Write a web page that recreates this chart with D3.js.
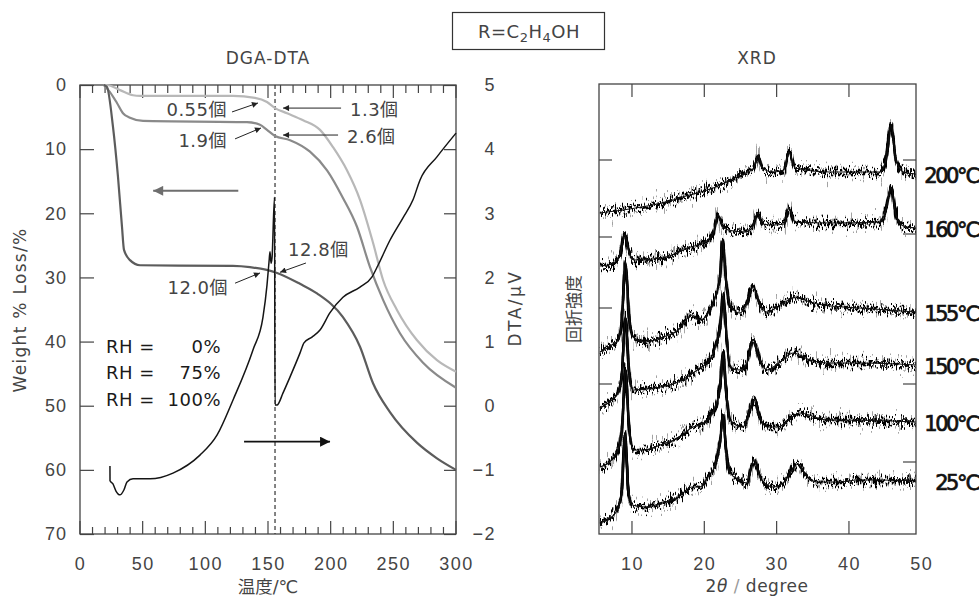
<!DOCTYPE html>
<html><head><meta charset="utf-8">
<script src="https://cdn.jsdelivr.net/npm/d3@7/dist/d3.min.js"></script>
<style>
body{margin:0;background:#fff;}
svg{display:block;font-family:"DejaVu Sans","Noto Sans CJK JP",sans-serif;}
.lbl{font-size:18px;fill:#444;letter-spacing:1.5px;}
</style></head><body>
<svg id="c" width="979" height="599"></svg>
<script>
// ---------------- DATA ----------------
// TG curves: [temperature °C, weight loss %]
const tgRH0 = [[19,0],[21.5,0],[31.9,0.8],[42.3,1.6],[47.9,1.7],[122,1.7],[139.6,2.0],[149.2,2.65],[155.6,3.6],[165.2,4.4],[178,5.5],[191.5,7.0],[201.9,9.7],[213,13.3],[223.4,17.9],[233.8,24.6],[241.8,30.4],[253,35.1],[268.9,39.8],[284.8,42.9],[300,44.7]];
const tgRH75 = [[19,0],[23.9,1.1],[29.5,2.8],[34.3,4.4],[39.9,5.1],[50.3,5.6],[133.2,5.8],[143.6,6.2],[149.2,7.0],[155.6,7.95],[167.6,8.6],[183.5,10.4],[197.1,13.3],[209.8,17.6],[221,22.1],[231.4,28.4],[241.8,33.5],[255.3,38.7],[273.7,43.3],[300,47.2]];
const tgRH100 = [[19,0],[21.5,0.3],[26.3,6.5],[30.3,14.3],[33.5,22.1],[35.1,25.7],[39.9,27.3],[47.9,28.1],[122,28.2],[135.6,28.4],[157.2,29.3],[175.5,31.0],[189.1,32.5],[209.8,36.2],[223.4,40.8],[233.8,46.5],[247.3,51],[269,55.8],[284.8,58.2],[300,60]];
// DTA curve: [temperature °C, DTA µV]
const dtaCurve = [[23.9,-0.94],[23.95,-1.17],[26.3,-1.22],[28.7,-1.33],[31.9,-1.39],[35.1,-1.31],[37.5,-1.19],[42.3,-1.14],[55.9,-1.14],[74.2,-1.05],[95.7,-0.77],[109.3,-0.46],[122.1,0.09],[138,0.87],[146,1.38],[149.2,1.88],[150.8,2.24],[151.6,2.4],[152.4,2.22],[153.2,2.3],[155.2,3.25],[155.6,0.01],[157.2,0.01],[162,0.2],[167.6,0.45],[175.5,0.82],[178.7,0.98],[185.1,1.07],[191.5,1.18],[199.5,1.45],[209.8,1.69],[223.4,1.85],[233,2.01],[237.8,2.19],[247.3,2.58],[257.7,2.93],[265.7,3.21],[271.3,3.52],[284.8,3.88],[300,4.25]];
const tempTicks = [0,50,100,150,200,250,300];
const weightTicks = [0,10,20,30,40,50,60,70];
const dtaTicks = [-2,-1,0,1,2,3,4,5];
const transitionTemp = 155.6;
const rhLabels = ["0%","75%","100%"];
const waterLabels = ["0.55個","1.9個","1.3個","2.6個","12.8個","12.0個"];

// XRD curves: [2θ degree, intensity (arb.)]
const xrd25 = [[5.57,12],[7.2,17],[8.06,26],[8.6,44],[9.03,101],[9.45,49],[10.0,29],[11.8,27],[14.15,31],[16.4,37],[18.3,47],[19.4,47],[20.5,57],[21.5,69],[22.2,94],[22.6,119],[23.0,84],[23.55,61],[24.9,54],[25.8,51],[26.9,74],[27.7,57],[28.7,49],[29.5,47],[30.9,51],[33.0,70],[34.0,59],[35.6,52],[38.8,52],[41.1,54],[44.3,54],[49.3,53]];
const xrd100 = [[5.57,67],[7.2,74],[8.06,84],[8.6,104],[9.1,164],[9.58,109],[10.14,84],[11.8,84],[13.9,89],[16.4,96],[18.44,107],[19.4,109],[20.8,117],[21.6,129],[22.2,149],[22.6,181],[23.0,144],[23.55,114],[25.35,107],[26.9,134],[27.7,116],[28.7,107],[30.1,107],[33.2,121],[36.97,114],[38.8,114],[49.3,112]];
const xrd150 = [[5.57,126],[7.2,134],[8.06,141],[8.6,159],[9.1,217],[9.58,164],[10.14,144],[11.8,145],[13.9,147],[16.4,152],[18.44,161],[19.4,166],[20.8,174],[21.6,189],[22.2,209],[22.6,240],[23.0,204],[23.55,167],[24.9,164],[25.8,169],[26.74,194],[27.7,174],[28.67,164],[30.5,172],[32.3,181],[34.6,174],[36.97,171],[41.5,171],[49.3,169]];
const xrd155 = [[5.57,182],[7.2,189],[8.06,194],[8.6,214],[9.1,272],[9.58,219],[10.14,197],[11.8,192],[13.9,196],[16.4,204],[18.3,219],[19.4,214],[20.8,224],[21.6,239],[22.2,259],[22.5,294],[23.0,254],[23.55,229],[24.9,221],[25.8,229],[26.74,247],[27.7,229],[28.67,222],[30.5,229],[32.8,237],[34.6,232],[36.4,229],[41.5,226],[49.3,222]];
const xrd160 = [[5.57,268],[7.2,270],[8.3,279],[9.0,299],[9.58,282],[10.3,274],[14.15,276],[17.75,286],[20.5,294],[21.3,302],[21.9,319],[22.45,309],[23.3,304],[25.6,302],[26.6,306],[27.4,321],[28.0,310],[29.5,309],[31.0,310],[31.7,326],[32.55,312],[37.4,311],[44.3,312],[45.1,324],[45.82,347],[46.5,319],[47.5,308],[49.3,306]];
const xrd200 = [[5.57,321],[9.7,325],[14.15,331],[18.0,339],[20.4,344],[21.9,348],[24.2,356],[26.0,362],[26.9,366],[27.4,379],[28.0,366],[29.5,362],[31.0,364],[31.7,382],[32.55,366],[37.4,362],[44.3,362],[45.1,374],[45.82,409],[46.5,374],[47.5,362],[49.3,360]];
const xrdSeries = [xrd25, xrd100, xrd150, xrd155, xrd160, xrd200];
const xrdTempLabels = ["25℃","100℃","150℃","155℃","160℃","200℃"];
const xrdTicks = [10,20,30,40,50];
const xrdLeftTicks = [150,226,297,374];
const xrdRightTicks = [72,150,300,374];

// ---------------- DRAW ----------------
const svg = d3.select("#c");
svg.append("rect").attr("width",979).attr("height",599).attr("fill","#fff");
const defs = svg.append("defs");
function marker(id, color, w, h){
  defs.append("marker").attr("id",id).attr("viewBox","0 0 10 10").attr("refX",10).attr("refY",5)
    .attr("markerUnits","userSpaceOnUse").attr("markerWidth",w).attr("markerHeight",h).attr("orient","auto")
    .append("path").attr("d","M0,0L10,5L0,10Z").attr("fill",color);
}
marker("ah","#222",8,6);
marker("bigGray","#6e6e6e",16,10);
marker("bigBlack","#111",16,10);
// noise filter (visual texture of the XRD traces)
function noiseFilter(id, seed, scale, freq){
  const f = defs.append("filter").attr("id",id).attr("x","-2%").attr("y","-40%").attr("width","104%").attr("height","180%");
  f.append("feTurbulence").attr("type","fractalNoise").attr("baseFrequency",freq).attr("numOctaves",2).attr("seed",seed).attr("result","t");
  f.append("feColorMatrix").attr("in","t").attr("type","matrix")
    .attr("values","1 0 0 0 0  0 0 0 0 0.5  0 0 0 0 0  0 0 0 0 1").attr("result","m");
  f.append("feDisplacementMap").attr("in","SourceGraphic").attr("in2","m").attr("scale",scale)
    .attr("xChannelSelector","G").attr("yChannelSelector","R");
}
noiseFilter("nz1", 3, 26, "0.9 0.05");
noiseFilter("nz2", 9, 40, "0.8 0.05");
noiseFilter("nz3", 17, 18, "0.95 0.05");

// ===== Left chart =====
const L = {x0:80, x1:456, y0:85, y1:534};
const xT = d3.scaleLinear().domain([0,300]).range([L.x0,L.x1]);
const yW = d3.scaleLinear().domain([0,70]).range([L.y0,L.y1]);
const yD = d3.scaleLinear().domain([-2,5]).range([L.y1,L.y0]);
const gL = svg.append("g");

const minor = d3.range(0,301,10);
gL.append("g").selectAll("line").data(minor).join("line")
  .attr("x1",d=>xT(d)).attr("x2",d=>xT(d)).attr("y1",L.y1).attr("y2",d=>L.y1-(d%50===0?13:7))
  .attr("stroke","#444").attr("stroke-width",1.2);
gL.append("g").selectAll("line").data(minor).join("line")
  .attr("x1",d=>xT(d)).attr("x2",d=>xT(d)).attr("y1",L.y0).attr("y2",d=>L.y0+(d%50===0?13:8))
  .attr("stroke","#444").attr("stroke-width",1.2);

const fmt = d3.format("d");
const axB = gL.append("g").attr("transform",`translate(0,${L.y1})`)
  .call(d3.axisBottom(xT).tickValues(tempTicks).tickSize(0).tickPadding(23).tickFormat(fmt));
const axL = gL.append("g").attr("transform",`translate(${L.x0},0)`)
  .call(d3.axisLeft(yW).tickValues(weightTicks).tickSizeInner(-14).tickSizeOuter(0).tickPadding(13).tickFormat(fmt));
const axR = gL.append("g").attr("transform",`translate(${L.x1},0)`)
  .call(d3.axisRight(yD).tickValues(dtaTicks).tickSizeInner(-12).tickSizeOuter(0).tickPadding(40).tickFormat(fmt));
axR.selectAll("text").attr("text-anchor","end");
[axB,axL,axR].forEach(a=>{
  a.select(".domain").remove();
  a.selectAll("line").attr("stroke","#444").attr("stroke-width",1.2);
  a.selectAll("text").attr("class","lbl").attr("font-family",null).attr("font-size",null).attr("fill",null);
});
axL.selectAll("text").style("letter-spacing","1px");
gL.append("rect").attr("x",L.x0).attr("y",L.y0).attr("width",L.x1-L.x0).attr("height",L.y1-L.y0)
  .attr("fill","none").attr("stroke","#444").attr("stroke-width",1.3);

gL.append("line").attr("x1",xT(transitionTemp)).attr("x2",xT(transitionTemp)).attr("y1",L.y0).attr("y2",L.y1)
  .attr("stroke","#333").attr("stroke-width",1.2).attr("stroke-dasharray","4,3");

const lineTG = d3.line().x(d=>xT(d[0])).y(d=>yW(d[1])).curve(d3.curveMonotoneX);
const lineDTA = d3.line().x(d=>xT(d[0])).y(d=>yD(d[1])).curve(d3.curveMonotoneX);
gL.append("path").attr("d",lineTG(tgRH0)).attr("fill","none").attr("stroke","#b8b8b8").attr("stroke-width",2.2);
gL.append("path").attr("d",lineTG(tgRH75)).attr("fill","none").attr("stroke","#8a8a8a").attr("stroke-width",2.2);
gL.append("path").attr("d",lineTG(tgRH100)).attr("fill","none").attr("stroke","#5c5c5c").attr("stroke-width",2.2);
gL.append("path").attr("d",lineDTA(dtaCurve)).attr("fill","none").attr("stroke","#151515").attr("stroke-width",1.5);

const notes = [
  {t:waterLabels[0], x:117.3, y:3.9, a:"end", from:[121.3,4.2], to:[142,2.8]},
  {t:waterLabels[1], x:117.3, y:8.6, a:"end", from:[123.7,8.4], to:[144.4,6.7]},
  {t:waterLabels[2], x:215.4, y:3.9, a:"start", from:[208.3,3.6], to:[162,3.6]},
  {t:waterLabels[3], x:213.0, y:8.1, a:"start", from:[205.9,7.8], to:[162,7.8]},
  {t:waterLabels[4], x:166.0, y:25.7, a:"start", from:[180.3,27.75], to:[159.6,29.2]},
  {t:waterLabels[5], x:118.1, y:31.5, a:"end", from:[123.7,30.9], to:[143.6,29.3]}
];
notes.forEach(n=>{
  gL.append("text").attr("class","lbl").attr("x",xT(n.x)).attr("y",yW(n.y)).attr("dy","0.36em")
    .attr("text-anchor",n.a).text(n.t).style("letter-spacing","0.5px");
  gL.append("line").attr("x1",xT(n.from[0])).attr("y1",yW(n.from[1])).attr("x2",xT(n.to[0])).attr("y2",yW(n.to[1]))
    .attr("stroke","#222").attr("stroke-width",1).attr("marker-end","url(#ah)");
});
gL.append("line").attr("x1",xT(126.3)).attr("x2",xT(58.4)).attr("y1",yW(16.5)).attr("y2",yW(16.5))
  .attr("stroke","#6e6e6e").attr("stroke-width",2).attr("marker-end","url(#bigGray)");
gL.append("line").attr("x1",xT(130.9)).attr("x2",xT(199.5)).attr("y1",yW(55.6)).attr("y2",yW(55.6))
  .attr("stroke","#111").attr("stroke-width",1.6).attr("marker-end","url(#bigBlack)");

const rhY = [40.8,44.9,49.1];
rhLabels.forEach((r,i)=>{
  gL.append("text").attr("x",xT(20.7)).attr("y",yW(rhY[i])).attr("dy","0.36em")
    .style("font-size","18px").style("letter-spacing","0.5px").attr("fill","#1a1a1a").text("RH =");
  gL.append("text").attr("x",xT(112.5)).attr("y",yW(rhY[i])).attr("dy","0.36em").attr("text-anchor","end")
    .style("font-size","18px").style("letter-spacing","0.5px").attr("fill","#1a1a1a").text(r);
});

svg.append("text").attr("class","lbl").attr("x",268).attr("y",64).attr("text-anchor","middle").style("font-size","17px").style("letter-spacing","1px").text("DGA-DTA");
svg.append("text").attr("class","lbl").attr("x",268).attr("y",593).attr("text-anchor","middle").style("font-size","17.5px").style("letter-spacing","0px").text("温度/℃");
svg.append("text").attr("class","lbl").attr("transform","translate(20,310) rotate(-90)").attr("dy","0.35em")
  .attr("text-anchor","middle").style("font-size","17px").style("letter-spacing","1.3px").text("Weight % Loss/%");
svg.append("text").attr("class","lbl").attr("transform","translate(515,308) rotate(-90)").attr("dy","0.35em")
  .attr("text-anchor","middle").style("font-size","17px").style("letter-spacing","2.5px").text("DTA/μV");

svg.append("rect").attr("x",452.5).attr("y",12.5).attr("width",152).attr("height",37).attr("fill","#fff").attr("stroke","#333").attr("stroke-width",1.2);
const rt = svg.append("text").attr("class","lbl").attr("x",529).attr("y",38).attr("text-anchor","middle").style("font-size","18px").style("letter-spacing","0.5px");
rt.append("tspan").text("R=C");
rt.append("tspan").attr("dy",4).style("font-size","13px").text("2");
rt.append("tspan").attr("dy",-4).text("H");
rt.append("tspan").attr("dy",4).style("font-size","13px").text("4");
rt.append("tspan").attr("dy",-4).text("OH");

// ===== Right chart (XRD) =====
const R = {x0:599, x1:916, y0:84, y1:534};
const xX = d3.scaleLinear().domain([5.44,49.27]).range([R.x0,R.x1]);
const yI = d3.scaleLinear().domain([0,450]).range([R.y1,R.y0]);
const gR = svg.append("g");
defs.append("clipPath").attr("id","clipR").append("rect").attr("x",R.x0).attr("y",R.y0-30).attr("width",R.x1-R.x0).attr("height",R.y1-R.y0+30);

const xTickIn = xrdTicks.filter(d=>d<49);
gR.append("g").selectAll("line").data(xTickIn).join("line")
  .attr("x1",d=>xX(d)).attr("x2",d=>xX(d)).attr("y1",R.y1).attr("y2",R.y1-13).attr("stroke","#444").attr("stroke-width",1.2);
gR.append("g").selectAll("line").data(xTickIn).join("line")
  .attr("x1",d=>xX(d)).attr("x2",d=>xX(d)).attr("y1",R.y0).attr("y2",R.y0+13).attr("stroke","#444").attr("stroke-width",1.2);
gR.append("g").selectAll("line").data(xrdLeftTicks).join("line")
  .attr("x1",R.x0).attr("x2",R.x0+13).attr("y1",d=>yI(d)).attr("y2",d=>yI(d)).attr("stroke","#444").attr("stroke-width",1.2);
gR.append("g").selectAll("line").data(xrdRightTicks).join("line")
  .attr("x1",R.x1).attr("x2",R.x1-13).attr("y1",d=>yI(d)).attr("y2",d=>yI(d)).attr("stroke","#444").attr("stroke-width",1.2);
const axXB = gR.append("g").attr("transform",`translate(0,${R.y1})`)
  .call(d3.axisBottom(xX).tickValues(xrdTicks).tickSize(0).tickPadding(23).tickFormat(fmt));
axXB.select(".domain").remove();
axXB.selectAll("text").attr("class","lbl").attr("font-family",null).attr("font-size",null).attr("fill",null);

const lineX = d3.line().x(d=>xX(d[0])).y(d=>yI(d[1])).curve(d3.curveMonotoneX);
const traces = gR.append("g").attr("clip-path","url(#clipR)");
xrdSeries.forEach((s,i)=>{
  traces.append("path").attr("d",lineX(s)).attr("fill","none").attr("stroke","#999").attr("stroke-width",2.6)
    .attr("filter","url(#nz2)").attr("opacity",0.9);
  traces.append("path").attr("d",lineX(s)).attr("fill","none").attr("stroke","#000").attr("stroke-width",2.6)
    .attr("filter","url(#nz1)");
  traces.append("path").attr("d",lineX(s)).attr("fill","none").attr("stroke","#000").attr("stroke-width",2.4)
    .attr("filter","url(#nz3)");
  traces.append("path").attr("d",lineX(s)).attr("fill","none").attr("stroke","#111").attr("stroke-width",1.2);
});
gR.append("rect").attr("x",R.x0).attr("y",R.y0).attr("width",R.x1-R.x0).attr("height",R.y1-R.y0)
  .attr("fill","none").attr("stroke","#444").attr("stroke-width",1.3);

xrdSeries.forEach((s,i)=>{
  gR.append("text").attr("x",978).attr("y",yI(s[s.length-1][1])).attr("dy","0.45em").attr("text-anchor","end")
    .style("font-size","21px").style("letter-spacing","-2.5px").attr("fill","#111")
    .attr("stroke","#111").attr("stroke-width",0.7)
    .text(xrdTempLabels[i]);
});

svg.append("text").attr("class","lbl").attr("x",757).attr("y",64).attr("text-anchor","middle").style("font-size","17px").style("letter-spacing","1px").text("XRD");
svg.append("text").attr("class","lbl").attr("transform","translate(574,309) rotate(-90)").attr("dy","0.35em")
  .attr("text-anchor","middle").style("font-size","17px").style("letter-spacing","0px").text("回折強度");
const xt = svg.append("text").attr("class","lbl").attr("x",757).attr("y",592).attr("text-anchor","middle").style("font-size","17px").style("letter-spacing","0.5px");
xt.append("tspan").text("2");
xt.append("tspan").style("font-style","italic").text("θ");
xt.append("tspan").attr("fill","#999").text(" / ");
xt.append("tspan").text("degree");
</script></body></html>
